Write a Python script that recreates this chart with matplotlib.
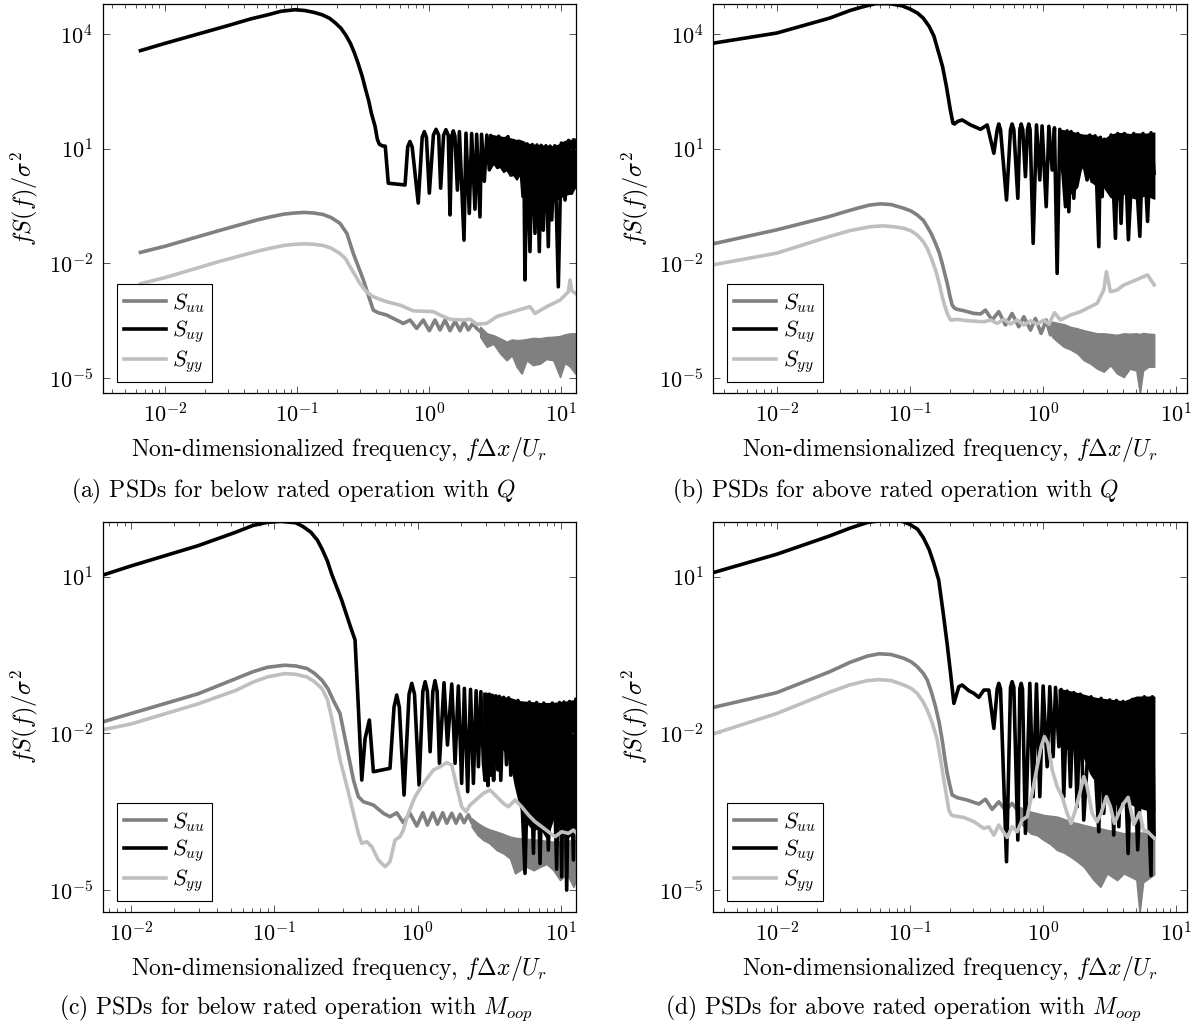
import numpy as np
import matplotlib
matplotlib.use('Agg')
import matplotlib.pyplot as plt
from matplotlib.lines import Line2D
from matplotlib.ticker import LogLocator, NullLocator, NullFormatter

"""
Values are read off the figure as log10 pairs: (log10 f, log10 fS/sigma^2).
Bands are the parts where the trace oscillates too fast to resolve:
(log10 f, lower envelope, upper envelope).
"""

# ---- (a) below rated, Q ----
a_uu = [(-2.186, -1.71), (-2.0, -1.55), (-1.6, -1.15), (-1.3, -0.86), (-1.2, -0.78), (-1.1, -0.71),
        (-1.02, -0.68), (-0.94, -0.665), (-0.87, -0.68), (-0.80, -0.72), (-0.74, -0.80), (-0.673, -0.95),
        (-0.62, -1.22), (-0.572, -1.74), (-0.53, -2.12), (-0.496, -2.43), (-0.446, -2.96), (-0.421, -3.22),
        (-0.383, -3.29), (-0.320, -3.35), (-0.244, -3.48), (-0.193, -3.57), (-0.142, -3.48), (-0.092, -3.70),
        (-0.042, -3.48), (0.004, -3.76), (0.047, -3.48), (0.085, -3.74), (0.123, -3.48), (0.161, -3.76),
        (0.199, -3.51), (0.237, -3.76), (0.267, -3.52), (0.300, -3.74), (0.333, -3.57), (0.363, -3.70),
        (0.39, -3.78)]
a_uu_band = [(0.39, -3.92, -3.66), (0.44, -4.18, -3.83), (0.49, -4.10, -3.88), (0.54, -4.35, -3.96),
             (0.59, -4.53, -4.05), (0.63, -4.40, -3.99), (0.666, -4.70, -4.01), (0.704, -4.88, -4.00),
             (0.742, -4.53, -3.98), (0.79, -4.66, -3.95), (0.843, -4.62, -3.96), (0.89, -4.50, -3.93),
             (0.944, -4.53, -3.92), (0.995, -4.97, -3.90), (1.03, -4.60, -3.86), (1.071, -4.70, -3.83),
             (1.11, -4.88, -3.83)]
a_uy = [(-2.186, 3.57), (-2.0, 3.76), (-1.507, 4.24), (-1.35, 4.40), (-1.217, 4.51), (-1.12, 4.60),
        (-1.014, 4.64), (-0.94, 4.62), (-0.870, 4.57), (-0.81, 4.51), (-0.754, 4.42), (-0.71, 4.30),
        (-0.667, 4.16), (-0.63, 3.98), (-0.594, 3.76), (-0.565, 3.52), (-0.536, 3.24), (-0.505, 2.90),
        (-0.478, 2.54), (-0.455, 2.25), (-0.435, 1.93), (-0.408, 1.60), (-0.39, 1.25), (-0.375, 1.12),
        (-0.35, 1.075), (-0.33, 1.07), (-0.307, 0.10), (-0.18, 0.054),
        (-0.16, 1.05), (-0.143, 1.19), (-0.126, 1.05), (-0.08, -0.42), (-0.05, 1.30), (-0.034, 1.45),
        (-0.018, 1.30), (0.004, -0.16), (0.035, 1.36), (0.055, 1.51), (0.075, 1.36), (0.090, -0.03),
        (0.112, 1.35), (0.130, 1.50), (0.148, 1.35), (0.161, -0.73), (0.175, 1.35), (0.186, 1.47),
        (0.198, 1.33), (0.217, -0.08), (0.232, 1.45), (0.267, -1.39), (0.282, 1.41), (0.307, -0.69),
        (0.325, 1.40), (0.35, -0.58), (0.363, 1.38), (0.388, -0.78), (0.40, 1.38), (0.421, 0.15),
        (0.44, 1.36), (0.459, 0.45), (0.47, 1.35), (0.50, 0.60), (0.53, 1.33), (0.56, 0.55), (0.60, 1.32),
        (0.64, 0.40), (0.68, 1.20), (0.72, 1.15), (0.729, -2.43), (0.745, 1.13), (0.767, -1.69),
        (0.785, 1.11), (0.805, -1.21), (0.82, 1.10), (0.838, -1.69), (0.852, 1.09), (0.868, -1.13),
        (0.888, 1.08), (0.906, -1.56), (0.92, 1.07), (0.932, -0.86), (0.955, 1.08), (0.982, -2.61),
        (1.005, 1.15), (1.033, -0.34), (1.06, 1.22), (1.083, -0.16), (1.10, 1.23)]
a_uy_band = [(0.459, 0.45, 1.36), (0.489, 0.62, 1.35), (0.515, 0.50, 1.33), (0.540, 0.53, 1.32),
             (0.565, 0.40, 1.30), (0.590, 0.45, 1.32), (0.615, 0.30, 1.27), (0.641, 0.32, 1.25),
             (0.665, 0.20, 1.22), (0.691, 0.36, 1.19), (0.704, -0.25, 1.17), (0.75, -0.25, 1.13),
             (0.80, -0.25, 1.10), (0.87, -0.20, 1.08), (0.93, -0.25, 1.06), (0.98, -0.30, 1.10),
             (1.03, -0.20, 1.20), (1.08, -0.16, 1.23), (1.11, 0.0, 1.23)]
a_yy = [(-2.186, -2.53), (-2.0, -2.37), (-1.6, -1.96), (-1.3, -1.68), (-1.2, -1.60), (-1.1, -1.53),
        (-1.02, -1.50), (-0.94, -1.485), (-0.87, -1.50), (-0.80, -1.53), (-0.74, -1.60), (-0.673, -1.74),
        (-0.63, -1.88), (-0.597, -2.085), (-0.56, -2.30), (-0.522, -2.52), (-0.49, -2.67), (-0.459, -2.78),
        (-0.421, -2.87), (-0.37, -2.94), (-0.320, -3.00), (-0.218, -3.09), (-0.117, -3.24), (0.034, -3.26),
        (0.085, -3.35), (0.161, -3.46), (0.262, -3.48), (0.313, -3.46), (0.363, -3.59), (0.439, -3.57),
        (0.515, -3.39), (0.641, -3.26), (0.717, -3.18), (0.767, -3.13), (0.805, -3.31), (0.894, -3.13),
        (0.995, -2.96), (1.058, -2.74), (1.071, -2.43), (1.083, -2.71), (1.11, -2.78)]

# ---- (b) above rated, Q ----
b_uu = [(-2.477, -1.485), (-2.0, -1.12), (-1.603, -0.77), (-1.50, -0.66), (-1.40, -0.56), (-1.30, -0.47),
        (-1.22, -0.44), (-1.14, -0.46), (-1.045, -0.557), (-0.99, -0.63), (-0.945, -0.732), (-0.90, -0.87),
        (-0.87, -1.037), (-0.84, -1.22), (-0.808, -1.474), (-0.78, -1.72), (-0.758, -1.997),
        (-0.72, -2.521), (-0.70, -2.85), (-0.683, -3.089), (-0.665, -3.17), (-0.645, -3.202),
        (-0.595, -3.237), (-0.52, -3.307), (-0.47, -3.32), (-0.433, -3.22), (-0.383, -3.481),
        (-0.333, -3.26), (-0.283, -3.612), (-0.233, -3.31), (-0.183, -3.656), (-0.145, -3.394),
        (-0.095, -3.743), (-0.058, -3.44), (-0.015, -3.83), (0.023, -3.48), (0.055, -3.87), (0.068, -3.60)]
b_uu_band = [(0.068, -3.92, -3.525), (0.11, -4.05, -3.56), (0.155, -4.18, -3.59), (0.205, -4.25, -3.66),
             (0.255, -4.35, -3.70), (0.305, -4.53, -3.75), (0.355, -4.62, -3.79), (0.405, -4.75, -3.83),
             (0.455, -4.83, -3.83), (0.505, -4.66, -3.85), (0.555, -4.88, -3.87), (0.605, -4.97, -3.83),
             (0.65, -4.75, -3.84), (0.70, -4.80, -3.83), (0.726, -5.39, -3.85), (0.75, -4.80, -3.82),
             (0.79, -4.70, -3.84), (0.833, -4.70, -3.85)]
b_uy = [(-2.477, 3.765), (-2.0, 4.03), (-1.603, 4.42), (-1.45, 4.62), (-1.35, 4.72), (-1.258, 4.80),
        (-1.15, 4.80), (-1.057, 4.74), (-1.0, 4.66), (-0.942, 4.55), (-0.90, 4.42), (-0.855, 4.20),
        (-0.82, 3.95), (-0.798, 3.68), (-0.775, 3.40), (-0.755, 3.15), (-0.726, 2.63), (-0.697, 2.02),
        (-0.677, 1.67), (-0.665, 1.65), (-0.64, 1.72), (-0.608, 1.756), (-0.545, 1.625), (-0.47, 1.511),
        (-0.42, 1.625), (-0.37, 0.883), (-0.345, 1.50), (-0.333, 1.65), (-0.32, 1.50), (-0.275, -0.339),
        (-0.245, 1.50), (-0.233, 1.65), (-0.22, 1.50), (-0.19, -0.295), (-0.175, 1.50), (-0.165, 1.65),
        (-0.153, 1.50), (-0.133, 0.272), (-0.118, 1.50), (-0.108, 1.65), (-0.098, 1.50), (-0.075, -1.474),
        (-0.05, 1.625), (-0.025, 0.185), (-0.008, 1.60), (0.023, -0.514), (0.043, 1.59), (0.068, 0.446),
        (0.085, 1.55), (0.105, -2.259), (0.125, 1.51), (0.168, -0.514), (0.18, 1.47), (0.193, -0.645),
        (0.21, 1.45), (0.23, -0.295), (0.26, 1.40), (0.33, 0.185), (0.35, 1.36), (0.368, 0.141),
        (0.39, 1.34), (0.418, -1.561), (0.43, 1.30), (0.443, -0.252), (0.46, 1.25), (0.48, 0.01),
        (0.51, 1.36), (0.543, -1.343), (0.56, 1.40), (0.585, -0.95), (0.61, 1.40), (0.640, -1.38),
        (0.68, 1.40), (0.726, -1.29), (0.75, 1.40), (0.784, -0.90), (0.81, 1.42), (0.833, 0.36)]
b_uy_band = [(0.13, 0.534, 1.494), (0.168, 0.01, 1.47), (0.205, -0.164, 1.45), (0.255, 0.01, 1.40),
             (0.28, 0.446, 1.38), (0.305, 0.621, 1.363), (0.355, 0.185, 1.363), (0.405, 0.01, 1.319),
             (0.455, 0.01, 1.232), (0.505, -0.252, 1.363), (0.555, -0.339, 1.406), (0.605, -0.164, 1.406),
             (0.65, -0.25, 1.38), (0.70, -0.30, 1.40), (0.77, -0.20, 1.39), (0.833, -0.30, 1.42)]
b_yy = [(-2.477, -2.035), (-2.0, -1.73), (-1.603, -1.293), (-1.45, -1.14), (-1.30, -1.04), (-1.20, -1.015),
        (-1.12, -1.04), (-1.045, -1.081), (-0.99, -1.15), (-0.945, -1.256), (-0.90, -1.43), (-0.87, -1.605),
        (-0.84, -1.86), (-0.808, -2.172), (-0.78, -2.52), (-0.758, -2.870), (-0.735, -3.15),
        (-0.72, -3.307), (-0.695, -3.481), (-0.645, -3.464), (-0.57, -3.499), (-0.445, -3.525),
        (-0.395, -3.48), (-0.345, -3.569), (-0.295, -3.46), (-0.245, -3.586), (-0.195, -3.48),
        (-0.145, -3.612), (-0.095, -3.50), (-0.045, -3.586), (0.005, -3.48), (0.043, -3.586),
        (0.085, -3.289), (0.13, -3.48), (0.205, -3.350), (0.28, -3.263), (0.355, -3.132), (0.405, -3.045),
        (0.455, -2.696), (0.475, -2.216), (0.505, -2.739), (0.555, -2.696), (0.605, -2.565), (0.698, -2.43),
        (0.784, -2.30), (0.833, -2.56)]

# ---- (c) below rated, M_oop ----
c_uu = [(-2.198, -1.78), (-2.0, -1.62), (-1.533, -1.243), (-1.270, -0.953), (-1.15, -0.82), (-1.05, -0.735),
        (-0.929, -0.695), (-0.85, -0.71), (-0.772, -0.759), (-0.72, -0.85), (-0.667, -0.985),
        (-0.625, -1.15), (-0.588, -1.372), (-0.542, -1.617), (-0.495, -2.255), (-0.448, -2.893),
        (-0.414, -3.212), (-0.379, -3.308), (-0.309, -3.372), (-0.239, -3.531), (-0.193, -3.595),
        (-0.146, -3.52), (-0.100, -3.710), (-0.054, -3.53), (-0.006, -3.774), (0.036, -3.52), (0.068, -3.755),
        (0.106, -3.52), (0.138, -3.74), (0.175, -3.52), (0.203, -3.72), (0.238, -3.53), (0.268, -3.72),
        (0.296, -3.55), (0.324, -3.71), (0.354, -3.56), (0.377, -3.70)]
c_uu_band = [(0.377, -3.787, -3.627), (0.42, -3.95, -3.72), (0.459, -4.042, -3.787), (0.50, -4.10, -3.84),
             (0.552, -4.234, -3.883), (0.60, -4.30, -3.93), (0.645, -4.393, -3.978), (0.68, -4.68, -4.0),
             (0.715, -4.617, -4.010), (0.761, -4.553, -4.02), (0.81, -4.62, -4.03), (0.854, -4.553, -4.042),
             (0.90, -4.50, -4.06), (0.947, -4.617, -4.074), (0.994, -4.808, -4.07), (1.040, -4.680, -4.06),
             (1.087, -4.936, -4.042), (1.105, -4.808, -4.042)]
c_uy = [(-2.198, 1.03), (-2.0, 1.206), (-1.533, 1.593), (-1.270, 1.851), (-1.15, 1.98), (-1.05, 2.04),
        (-0.955, 2.06), (-0.85, 2.031), (-0.80, 1.96), (-0.745, 1.851), (-0.70, 1.70), (-0.667, 1.528),
        (-0.63, 1.30), (-0.60, 1.05), (-0.53, 0.55), (-0.47, 0.05),
        (-0.437, -0.21), (-0.414, -1.489), (-0.39, -2.893), (-0.367, -2.1), (-0.337, -1.744), (-0.309, -2.734),
        (-0.193, -2.669), (-0.165, -1.5), (-0.146, -1.265), (-0.128, -1.5), (-0.095, -3.180), (-0.06, -1.25),
        (-0.041, -1.042), (-0.022, -1.25), (0.010, -2.989), (0.036, -1.2), (0.052, -1.010), (0.068, -1.2),
        (0.087, -2.351), (0.106, -1.2), (0.121, -0.991), (0.136, -1.2), (0.152, -2.574), (0.184, -1.03),
        (0.208, -2.223), (0.238, -1.055), (0.261, -2.574), (0.284, -1.093), (0.307, -2.957), (0.326, -1.138),
        (0.349, -3.116), (0.369, -1.157), (0.389, -2.957), (0.408, -1.183), (0.424, -2.638), (0.441, -1.202),
        (0.459, -2.574), (0.47, -2.9), (0.48, -1.25), (0.49, -3.0), (0.50, -1.25), (0.51, -2.8),
        (0.52, -1.27), (0.53, -2.9), (0.545, -1.28), (0.56, -2.7), (0.57, -1.29), (0.58, -2.9),
        (0.60, -1.31), (0.62, -2.6), (0.635, -1.32), (0.65, -2.8), (0.70, -1.37), (0.749, -4.68),
        (0.78, -1.40), (0.808, -4.297), (0.83, -1.41), (0.854, -4.49), (0.88, -1.42), (0.912, -4.234),
        (0.94, -1.42), (0.970, -4.6), (0.99, -1.41), (1.005, -4.744), (1.02, -1.40), (1.040, -5.0),
        (1.06, -1.39), (1.087, -4.425), (1.105, -1.35)]
c_uy_band = [(0.459, -2.3, -1.221), (0.505, -2.2, -1.25), (0.552, -2.2, -1.285), (0.598, -2.3, -1.31),
             (0.645, -2.5, -1.329), (0.68, -3.0, -1.36), (0.715, -3.4, -1.39), (0.761, -3.7, -1.40),
             (0.808, -3.85, -1.41), (0.854, -3.79, -1.425), (0.901, -4.0, -1.425), (0.947, -3.6, -1.42),
             (0.994, -3.8, -1.41), (1.04, -4.0, -1.393), (1.087, -3.9, -1.37), (1.105, -3.9, -1.348)]
c_yy = [(-2.198, -1.93), (-2.0, -1.82), (-1.533, -1.436), (-1.270, -1.178), (-1.15, -1.02), (-1.05, -0.92),
        (-0.929, -0.856), (-0.85, -0.87), (-0.772, -0.920), (-0.72, -1.01), (-0.667, -1.146), (-0.63, -1.35),
        (-0.60, -1.7), (-0.542, -2.5), (-0.495, -3.0), (-0.448, -3.531),
        (-0.414, -3.914), (-0.390, -4.106), (-0.355, -4.074), (-0.320, -4.170), (-0.274, -4.425),
        (-0.227, -4.553), (-0.193, -4.457), (-0.158, -4.042), (-0.123, -3.978), (-0.100, -3.851),
        (-0.065, -3.531), (-0.018, -3.212), (0.040, -2.957), (0.110, -2.702), (0.157, -2.638),
        (0.203, -2.561), (0.238, -2.606), (0.273, -3.021), (0.307, -3.404), (0.338, -3.5), (0.366, -3.372),
        (0.412, -3.26), (0.459, -3.148), (0.505, -3.084), (0.552, -3.212), (0.598, -3.340), (0.633, -3.404),
        (0.680, -3.276), (0.726, -3.404), (0.773, -3.563), (0.819, -3.69), (0.866, -3.787), (0.912, -3.883),
        (0.959, -3.978), (1.005, -3.883), (1.052, -3.914), (1.087, -3.851), (1.105, -3.9)]

# ---- (d) above rated, M_oop ----
d_uu = [(-2.477, -1.503), (-2.0, -1.22), (-1.603, -0.820), (-1.45, -0.64), (-1.32, -0.52), (-1.230, -0.476),
        (-1.14, -0.49), (-1.045, -0.563), (-0.99, -0.63), (-0.945, -0.723), (-0.90, -0.85), (-0.87, -0.978),
        (-0.84, -1.2), (-0.808, -1.489), (-0.78, -1.8), (-0.758, -2.127), (-0.74, -2.45), (-0.72, -2.765),
        (-0.70, -3.0), (-0.683, -3.18), (-0.645, -3.23), (-0.57, -3.276), (-0.483, -3.353),
        (-0.433, -3.26), (-0.383, -3.455), (-0.333, -3.31), (-0.283, -3.47), (-0.233, -3.34), (-0.183, -3.50)]
d_uu_band = [(-0.183, -3.659, -3.404), (-0.14, -3.80, -3.45), (-0.095, -3.914, -3.499), (-0.045, -3.95, -3.53),
             (0.005, -4.042, -3.563), (0.055, -4.12, -3.58), (0.105, -4.234, -3.595), (0.155, -4.28, -3.64),
             (0.205, -4.361, -3.691), (0.255, -4.45, -3.72), (0.305, -4.553, -3.755), (0.38, -4.808, -3.80),
             (0.43, -4.936, -3.819), (0.48, -4.680, -3.85), (0.555, -4.808, -3.883), (0.605, -4.680, -3.914),
             (0.70, -4.8, -3.9), (0.724, -5.43, -3.9), (0.75, -4.85, -3.9), (0.833, -4.7, -3.95)]
d_uy = [(-2.477, 1.078), (-2.0, 1.43), (-1.603, 1.780), (-1.45, 1.93), (-1.316, 2.040), (-1.201, 2.08),
        (-1.057, 2.06), (-1.0, 2.0), (-0.943, 1.910), (-0.90, 1.75), (-0.856, 1.520), (-0.82, 1.25),
        (-0.784, 0.935), (-0.75, 0.3), (-0.72, -0.3), (-0.695, -0.851),
        (-0.67, -1.425), (-0.633, -1.106), (-0.608, -1.074), (-0.558, -1.182), (-0.52, -1.234),
        (-0.483, -1.31), (-0.445, -1.17), (-0.408, -1.17), (-0.37, -1.904), (-0.345, -1.15), (-0.333, -1.042),
        (-0.32, -1.15), (-0.275, -4.457), (-0.245, -1.12), (-0.233, -1.01), (-0.22, -1.12), (-0.19, -4.042),
        (-0.175, -1.15), (-0.165, -1.042), (-0.155, -1.15), (-0.133, -3.914), (-0.10, -1.042),
        (-0.075, -3.212), (-0.05, -1.055), (-0.025, -3.212), (0.0, -1.093), (0.03, -2.638), (0.05, -1.106),
        (0.075, -2.446), (0.093, -1.12), (0.118, -2.255), (0.135, -1.16), (0.155, -3.212), (0.18, -1.19),
        (0.205, -3.021), (0.23, -1.22), (0.255, -3.404), (0.28, -1.25), (0.305, -3.659), (0.36, -1.30),
        (0.418, -3.883), (0.435, -1.33), (0.455, -3.531), (0.50, -1.36), (0.53, -3.947), (0.55, -1.37),
        (0.568, -3.787), (0.60, -1.39), (0.638, -4.30), (0.67, -1.35), (0.710, -4.23), (0.76, -1.30),
        (0.810, -4.72), (0.82, -1.30), (0.833, -3.94)]
d_uy_band = [(0.118, -2.127, -1.157), (0.168, -2.319, -1.18), (0.205, -2.191, -1.202), (0.255, -2.319, -1.23),
             (0.305, -2.446, -1.265), (0.355, -2.765, -1.30), (0.405, -2.957, -1.329), (0.455, -3.148, -1.345),
             (0.505, -3.404, -1.361), (0.555, -3.340, -1.375), (0.605, -3.276, -1.393), (0.70, -3.4, -1.30),
             (0.833, -3.5, -1.30)]
d_yy = [(-2.477, -2.010), (-2.0, -1.62), (-1.603, -1.210), (-1.45, -1.07), (-1.32, -0.99), (-1.230, -0.970),
        (-1.14, -0.99), (-1.045, -1.074), (-0.99, -1.14), (-0.945, -1.234), (-0.90, -1.40), (-0.87, -1.553),
        (-0.83, -1.82), (-0.795, -2.127), (-0.77, -2.5), (-0.745, -2.893), (-0.725, -3.2), (-0.708, -3.468),
        (-0.69, -3.56), (-0.67, -3.58), (-0.595, -3.61), (-0.52, -3.69), (-0.445, -3.82), (-0.408, -3.79),
        (-0.37, -3.947), (-0.333, -3.755), (-0.27, -3.991), (-0.233, -3.787), (-0.195, -3.883),
        (-0.158, -3.659), (-0.12, -3.595), (-0.083, -3.148), (-0.045, -2.638), (-0.015, -2.255),
        (0.01, -2.063), (0.035, -2.191), (0.068, -2.702), (0.105, -3.021), (0.143, -3.212), (0.18, -3.531),
        (0.21, -3.723), (0.235, -3.531), (0.275, -3.148), (0.305, -2.829), (0.33, -3.021), (0.368, -3.531),
        (0.405, -3.691), (0.435, -3.531), (0.475, -3.212), (0.505, -3.404), (0.535, -3.723), (0.568, -3.531),
        (0.605, -3.340), (0.638, -3.225), (0.681, -3.745), (0.724, -3.518), (0.753, -3.85), (0.782, -3.875),
        (0.833, -4.006)]

# axis limits (log10) and captions
xlims = {'a': (-2.472, 1.116), 'b': (-2.477, 1.080), 'c': (-2.198, 1.105), 'd': (-2.477, 1.080)}
ylims = {'a': (-5.39, 4.79), 'b': (-5.39, 4.79), 'c': (-5.42, 2.053), 'd': (-5.42, 2.053)}
captions = {'a': r'(a) PSDs for below rated operation with $Q$',
            'b': r'(b) PSDs for above rated operation with $Q$',
            'c': r'(c) PSDs for below rated operation with $M_{oop}$',
            'd': r'(d) PSDs for above rated operation with $M_{oop}$'}
labels = [r'$S_{uu}$', r'$S_{uy}$', r'$S_{yy}$']
colors = ['#808080', '#000000', '#bfbfbf']


def draw_trace(ax, pts, band, color, lw):
    pts = np.array(pts)
    ax.plot(10 ** pts[:, 0], 10 ** pts[:, 1], color=color, lw=lw, solid_joinstyle='round')
    if band is not None:
        band = np.array(band)
        ax.fill_between(10 ** band[:, 0], 10 ** band[:, 1], 10 ** band[:, 2],
                        color=color, lw=1.2, edgecolor=color)


def setup_graph():
    plt.rcParams['font.family'] = 'serif'
    plt.rcParams['font.serif'] = ['cmr10']
    plt.rcParams['mathtext.fontset'] = 'cm'
    plt.rcParams['axes.formatter.use_mathtext'] = True

    fig = plt.figure(figsize=(11.95, 10.26), dpi=100)
    W, H = 1195.0, 1026.0
    # axes boxes in pixels: left, right, top, bottom
    boxes = {'a': (102.7, 576.0, 4.0, 393.0), 'b': (713.2, 1187.0, 4.0, 393.0),
             'c': (102.7, 576.0, 521.7, 912.0), 'd': (713.2, 1187.0, 521.7, 912.0)}
    cap_pos = {'a': (293, 491), 'b': (895, 491), 'c': (296, 1008), 'd': (903, 1008)}
    data = {'a': (a_uu, a_uu_band, a_uy, a_uy_band, a_yy),
            'b': (b_uu, b_uu_band, b_uy, b_uy_band, b_yy),
            'c': (c_uu, c_uu_band, c_uy, c_uy_band, c_yy),
            'd': (d_uu, d_uu_band, d_uy, d_uy_band, d_yy)}

    for key in 'abcd':
        l, r, t, b = boxes[key]
        ax = fig.add_axes([l / W, 1 - b / H, (r - l) / W, (b - t) / H])
        uu, uu_band, uy, uy_band, yy = data[key]
        lw = 2.6
        draw_trace(ax, uu, uu_band, colors[0], lw)
        draw_trace(ax, uy, uy_band, colors[1], lw)
        draw_trace(ax, yy, None, colors[2], lw)

        ax.set_xscale('log')
        ax.set_yscale('log')
        ax.set_xlim(10 ** xlims[key][0], 10 ** xlims[key][1])
        ax.set_ylim(10 ** ylims[key][0], 10 ** ylims[key][1])
        if key in 'ab':
            ax.set_yticks([1e-5, 1e-2, 1e1, 1e4])
        else:
            ax.set_yticks([1e-5, 1e-2, 1e1])
        ax.yaxis.set_minor_locator(NullLocator())
        ax.xaxis.set_major_locator(LogLocator(base=10, numticks=12))
        ax.xaxis.set_minor_locator(LogLocator(base=10, subs=np.arange(2, 10), numticks=12))
        ax.xaxis.set_minor_formatter(NullFormatter())
        ax.tick_params(which='both', direction='in', top=True, right=True, labelsize=16,
                       color='#555555', width=0.7)
        ax.tick_params(which='major', length=5, pad=7)
        ax.tick_params(which='minor', length=3)
        for s in ax.spines.values():
            s.set_linewidth(0.9)

        ax.set_xlabel(r'Non-dimensionalized frequency, $f\Delta x/U_r$', fontsize=17, labelpad=6)
        ax.set_ylabel(r'$fS(f)/\sigma^2$', fontsize=17.5, labelpad=6)

        handles = [Line2D([], [], color=c, lw=lw) for c in colors]
        leg = ax.legend(handles, labels, loc='lower left', bbox_to_anchor=(0.03, 0.028),
                        borderaxespad=0, fontsize=16, fancybox=False, framealpha=1,
                        edgecolor='black', handlelength=1.9, handletextpad=0.3,
                        labelspacing=0.15, borderpad=0.3)
        leg.get_frame().set_linewidth(0.8)

        cx, cy = cap_pos[key]
        fig.text(cx / W, 1 - cy / H, captions[key], ha='center', va='center', fontsize=17)

    fig.savefig('out.png', dpi=100)


if __name__ == "__main__":
    setup_graph()
